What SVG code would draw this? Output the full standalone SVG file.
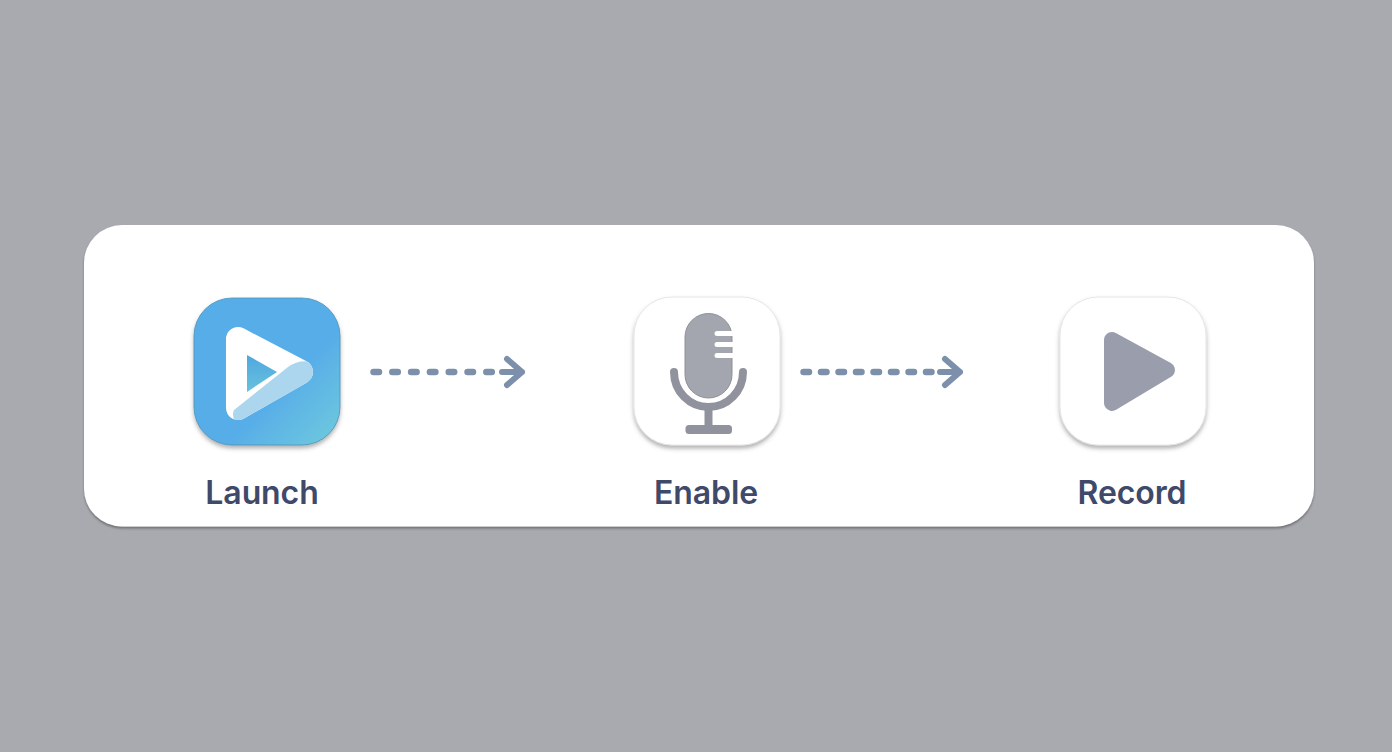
<svg xmlns="http://www.w3.org/2000/svg" width="1392" height="752" viewBox="0 0 1392 752">
<style>
.lbl{font-family:"Inter","Liberation Sans",sans-serif;font-size:32px;font-weight:600;fill:#3f4969;text-anchor:middle;letter-spacing:-0.1px}
.dash{fill:none;stroke:#7d90ab;stroke-width:6.500;stroke-linecap:round}
.head{fill:none;stroke:#7d90ab;stroke-width:6;stroke-linecap:round;stroke-linejoin:round}
.glyph{fill:#a3a6ae;stroke:#8d9098;stroke-width:1}
.stem{fill:none;stroke:#90939d;stroke-linecap:round}
</style>
<defs>
<linearGradient id="blue" x1="0.2" y1="0.2" x2="1" y2="1"><stop offset="0.5" stop-color="#57ade8"/><stop offset="1" stop-color="#6fcbdc"/></linearGradient>
<linearGradient id="inner" x1="0" y1="0" x2="0" y2="1"><stop offset="0" stop-color="#4fa8df"/><stop offset="1" stop-color="#68c1dc"/></linearGradient>
<filter id="sh" x="-20%" y="-20%" width="140%" height="140%"><feDropShadow dx="0" dy="3" stdDeviation="2" flood-color="#555" flood-opacity="0.45"/></filter>
<filter id="sh2" x="-5%" y="-5%" width="110%" height="112%"><feDropShadow dx="0" dy="2" stdDeviation="1" flood-color="#444" flood-opacity="0.55"/></filter>
</defs>
<rect width="1392" height="752" fill="#a9aaaf"/>
<rect id="card" x="84" y="225" width="1230" height="301.500" rx="38" fill="#fff" filter="url(#sh2)"/>
<g id="launch">
<rect x="194" y="298" width="146" height="147" rx="38" fill="url(#blue)" stroke="#4b93b8" stroke-width="0.800" filter="url(#sh)"/>
<polygon points="238,339 301,372 238,408" fill="#fff" stroke="#fff" stroke-width="24" stroke-linejoin="round"/>
<path d="M247 355L277 372L247 392Z" fill="url(#inner)"/>
<path d="M234 410L288 367Q296 361 306.600 361.400A12 12 0 0 1 307 382.400L244 418.400A12 12 0 0 1 234 419.300Q232 414 234 410Z" fill="#acd6ee"/>
<text class="lbl" x="262" y="504">Launch</text>
</g>
<g id="enable">
<rect x="634" y="297" width="146" height="148" rx="38" fill="#fff" stroke="#e6e6e8" filter="url(#sh)"/>
<path class="glyph" d="M685 337a23.500 23.500 0 0 1 47 0v37.500a23.500 23.500 0 0 1 -47 0Z"/>
<path d="M717 333.500H733M717 344.500H733M717 355.500H733" stroke="#fff" stroke-width="5" stroke-linecap="round" fill="none"/>
<path class="stem" d="M674 372a34.500 35 0 0 0 69 0" stroke-width="8"/>
<path d="M708.500 407V428" stroke="#90939d" stroke-width="8"/>
<rect x="685.500" y="425" width="46.500" height="9" rx="3.500" fill="#90939d"/>
<text class="lbl" x="706" y="504">Enable</text>
</g>
<g id="record">
<rect x="1060" y="297" width="146" height="148" rx="38" fill="#fff" stroke="#e6e6e8" filter="url(#sh)"/>
<polygon points="1112,340 1167,370 1112,403" fill="#9a9dab" stroke="#9a9dab" stroke-width="16" stroke-linejoin="round"/>
<text class="lbl" x="1132" y="504">Record</text>
</g>
<g id="connectors">
<path class="dash" stroke-dasharray="5.500 13.300" d="M373.500 372H495"/>
<path class="head" d="M507 359L522 372L507 385M502 372H522"/>
<path class="dash" stroke-dasharray="5.500 12" d="M803.500 372H933"/>
<path class="head" d="M945 359L960 372L945 385M940 372H960"/>
</g>
</svg>
